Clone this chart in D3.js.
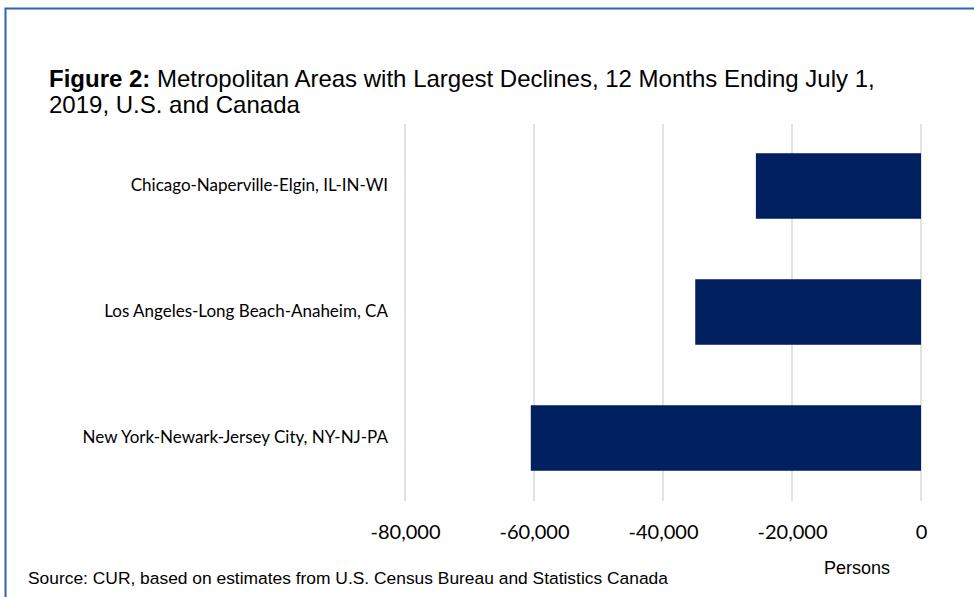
<!DOCTYPE html>
<html><head><meta charset="utf-8">
<script src="https://cdn.jsdelivr.net/npm/d3@7"></script>
<style>
body{margin:0;background:#fff;}
svg{display:block;}
</style></head>
<body>
<svg id="chart" width="974" height="597"></svg>
<script>
const categories = ["Chicago-Naperville-Elgin, IL-IN-WI","Los Angeles-Long Beach-Anaheim, CA","New York-Newark-Jersey City, NY-NJ-PA"];
const values = [-25600, -35000, -60500];
const tickValues = [-80000, -60000, -40000, -20000, 0];
const titleBold = "Figure 2:";
const titleRest1 = " Metropolitan Areas with Largest Declines, 12 Months Ending July 1,";
const titleLine2 = "2019, U.S. and Canada";
const sourceText = "Source: CUR, based on estimates from U.S. Census Bureau and Statistics Canada";
const axisTitle = "Persons";

const svg = d3.select("#chart");
// frame
svg.append("rect").attr("x",5.5).attr("y",8.5).attr("width",1000).attr("height",700)
  .attr("fill","none").attr("stroke","#2f63b0").attr("stroke-width",2);

const x = d3.scaleLinear().domain([-80000,0]).range([405,921]);
const y = d3.scaleBand().domain(categories).range([123,501]).paddingInner(0.48).paddingOuter(0.24);

// gridlines
svg.append("g").selectAll("line").data(tickValues).join("line")
  .attr("x1",d=>x(d)).attr("x2",d=>x(d)).attr("y1",124).attr("y2",501)
  .attr("stroke","#d9d9d9").attr("stroke-width",1.5);

// bars
svg.append("g").selectAll("rect").data(values).join("rect")
  .attr("x",d=>x(d)).attr("width",d=>x(0)-x(d))
  .attr("y",(d,i)=>y(categories[i])).attr("height",y.bandwidth())
  .attr("fill","#002060");

// x axis
const xAxis = d3.axisBottom(x).tickValues(tickValues).tickSize(0).tickPadding(0).tickFormat(d=>d3.format(",")(d).replace("\u2212","-"));
const gx = svg.append("g").attr("transform","translate(0,530)").call(xAxis);
gx.select(".domain").remove();
gx.selectAll("text").attr("font-family","Lato, sans-serif").attr("font-size","20px").attr("fill","#000").attr("dy","0.45em");

// y axis labels
const yAxis = d3.axisLeft(y).tickSize(0).tickPadding(0);
const gy = svg.append("g").attr("transform","translate(388,0)").call(yAxis);
gy.select(".domain").remove();
gy.selectAll("text").attr("font-family","Lato, sans-serif").attr("font-size","17px").attr("fill","#000");

// title
const t = svg.append("text").attr("x",49).attr("y",87).attr("font-family","Liberation Sans, Arial, sans-serif").attr("font-size","24px").attr("fill","#000");
t.append("tspan").attr("font-weight","bold").text(titleBold);
t.append("tspan").text(titleRest1);
svg.append("text").attr("x",49).attr("y",113).attr("font-family","Liberation Sans, Arial, sans-serif").attr("font-size","24px").attr("fill","#000").text(titleLine2);

// source
svg.append("text").attr("x",28).attr("y",584).attr("font-family","Liberation Sans, Arial, sans-serif").attr("font-size","17.4px").attr("fill","#000").text(sourceText);
// axis title
svg.append("text").attr("x",857).attr("y",574).attr("text-anchor","middle").attr("font-family","Liberation Sans, Arial, sans-serif").attr("font-size","18px").attr("fill","#000").text(axisTitle);
</script>
</body></html>
